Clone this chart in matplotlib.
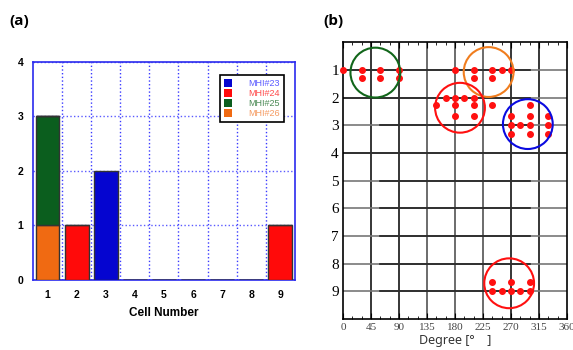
import numpy as np
import matplotlib.pyplot as plt
from matplotlib.patches import Ellipse, Patch

# (a) 셀 번호별 개수 (MHI 별로 쌓기)
cells = np.arange(1, 10)
mhi23 = [0, 0, 2, 0, 0, 0, 0, 0, 0]
mhi24 = [0, 1, 0, 0, 0, 0, 0, 0, 1]
mhi25 = [2, 0, 0, 0, 0, 0, 0, 0, 0]
mhi26 = [1, 0, 0, 0, 0, 0, 0, 0, 0]
labels = ['MHI#23', 'MHI#24', 'MHI#25', 'MHI#26']
colors = ['#0505d0', '#ff0a0a', '#0b5e1e', '#f06a12']
text_colors = ['#5a5aff', '#ff4a4a', '#4a8a55', '#f59a60']

# (b) 각도 [deg] 와 셀 위치
dot_deg = [0, 30, 60, 90, 180, 210, 240, 255, 270,
           30, 60, 90, 210, 240,
           165, 180, 195, 210,
           150, 180, 210, 240, 300,
           180, 210, 270, 300, 330,
           270, 285, 300, 330,
           270, 300, 330,
           240, 270, 300,
           240, 255, 270, 285, 300]
dot_row = [1.0] * 9 + [1.28] * 5 + [2.0] * 4 + [2.28] * 5 + [2.68] * 5 \
          + [3.0] * 4 + [3.3] * 3 + [8.66] * 3 + [9.0] * 5
circ_deg = [52, 234, 188, 297, 267]
circ_row = [1.1, 1.08, 2.37, 2.96, 8.71]
circ_col = ['#11661a', '#f07d1e', '#ff1010', '#0a0ae0', '#ff1010']

fig = plt.figure(figsize=(5.73, 3.5), dpi=100)

# ---- (a) ----
ax = fig.add_axes([0.0576, 0.2, 0.457, 0.623])
b26 = np.array(mhi26)
b25 = b26 + np.array(mhi25)
b24 = b25 + np.array(mhi24)
ax.bar(cells, mhi26, width=0.82, color=colors[3], edgecolor='#333333', lw=1, zorder=3)
ax.bar(cells, mhi25, width=0.82, bottom=b26, color=colors[2], edgecolor='#333333', lw=1, zorder=3)
ax.bar(cells, mhi24, width=0.82, bottom=b25, color=colors[1], edgecolor='#333333', lw=1, zorder=3)
ax.bar(cells, mhi23, width=0.82, bottom=b24, color=colors[0], edgecolor='#333333', lw=1, zorder=3)
ax.set_xlim(0.5, 9.5)
ax.set_ylim(0, 4)
ax.set_xticks(cells)
ax.set_yticks(range(5))
ax.set_xticks(np.arange(1.5, 9.5, 1), minor=True)
ax.grid(True, which='minor', axis='x', color='#3a3aff', ls=':', lw=1)
ax.grid(True, which='major', axis='y', color='#5a5aff', ls=':', lw=1)
ax.set_axisbelow(True)
for s in ax.spines.values():
    s.set_color('#2a2aee')
    s.set_linewidth(1.2)
ax.tick_params(which='both', length=0, pad=7)
for t in ax.get_xticklabels() + ax.get_yticklabels():
    t.set_fontfamily('Liberation Sans')
    t.set_fontweight('bold')
    t.set_fontsize(7.5)
ax.set_xlabel('Cell Number', fontfamily='Liberation Sans', fontweight='bold',
              fontsize=8.5, labelpad=5)
handles = [Patch(facecolor=c) for c in colors]
leg = ax.legend(handles, labels, loc='upper right', bbox_to_anchor=(0.975, 0.96),
                fancybox=False, edgecolor='k', framealpha=1,
                handlelength=0.9, handleheight=0.9, handletextpad=1.8,
                labelspacing=0.1, borderpad=0.45,
                prop={'family': 'Liberation Sans', 'size': 6.5})
leg.get_frame().set_linewidth(1.2)
for t, c in zip(leg.get_texts(), text_colors):
    t.set_color(c)
fig.text(0.017, 0.93, '(a)', fontsize=11, fontweight='bold', family='Open Sans')

# ---- (b) ----
bx = fig.add_axes([0.5986, 0.0886, 0.391, 0.791])
bx.set_xlim(0, 360)
bx.set_ylim(10, 0)
bx.set_xticks(np.arange(0, 361, 45))
bx.set_xticks(np.arange(0, 361, 15), minor=True)
bx.set_yticks(range(1, 10))
for x in range(45, 360, 45):
    bx.axvline(x, color='#444444' if x in (135, 180, 225) else 'k', lw=1.1, zorder=1)
for y in range(1, 10):
    bx.axhline(y, color='#777777', lw=1.2, zorder=1)
    x0 = 0 if y <= 2 or y == 4 else 60
    x1 = 360 if y == 4 else 300
    bx.plot([x0, x1], [y, y], color='#222222', lw=1.2, zorder=1)
bx.scatter(dot_deg, dot_row, s=16, color='#ff1010', zorder=4, clip_on=False)
for d, r, c in zip(circ_deg, circ_row, circ_col):
    bx.add_patch(Ellipse((d, r), width=80, height=1.8, fill=False,
                         edgecolor=c, lw=1.5, zorder=5))
for s in bx.spines.values():
    s.set_color('k')
    s.set_linewidth(1.2)
bx.tick_params(axis='x', which='both', direction='in', top=True, bottom=True,
               pad=3)
bx.tick_params(axis='x', which='major', length=4)
bx.tick_params(axis='x', which='minor', length=2.5)
bx.tick_params(axis='y', length=0, pad=3)
for t in bx.get_xticklabels():
    t.set_fontfamily('Liberation Serif')
    t.set_fontsize(8)
    t.set_color('#444444')
for t in bx.get_yticklabels():
    t.set_fontfamily('Liberation Serif')
    t.set_fontsize(11)
bx.set_xlabel('Degree [°　]', fontsize=9, family=['Noto Sans', 'Noto Sans CJK JP'],
              color='#333333', labelpad=1)
fig.text(0.565, 0.93, '(b)', fontsize=11, fontweight='bold', family='Open Sans')

fig.savefig('out.png', dpi=100)
